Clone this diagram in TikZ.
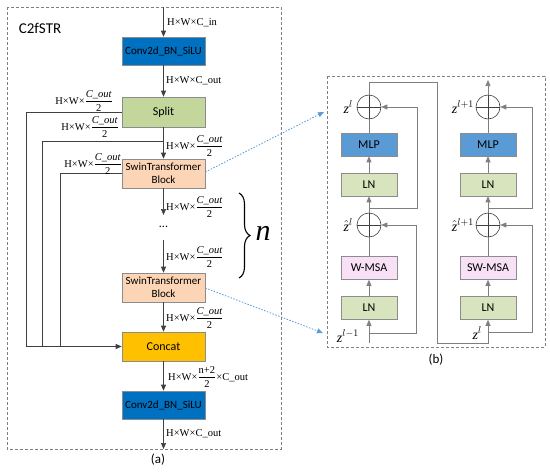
\documentclass[tikz,border=0pt]{standalone}
\usepackage{fontspec}
\setmainfont{Carlito}
\newfontfamily\tnr{Liberation Serif}
\usetikzlibrary{arrows.meta,decorations.pathreplacing}
\definecolor{convblue}{HTML}{0070C0}
\definecolor{splitgreen}{HTML}{C3D69B}
\definecolor{swinpeach}{HTML}{FBD5B5}
\definecolor{concatyel}{HTML}{FFC000}
\definecolor{mlpblue}{HTML}{5B9BD5}
\definecolor{lngreen}{HTML}{D7E4BD}
\definecolor{msapink}{HTML}{F8E1F6}
\definecolor{bd}{HTML}{8C8C8C}
\definecolor{ln}{HTML}{404040}
\definecolor{rln}{HTML}{7F7F7F}
\definecolor{dotblue}{HTML}{5B9BD5}
\newcommand\myfr[2]{$\displaystyle\frac{\hbox{#1}}{\hbox{#2}}$}
\newcommand\hwC{{\tnr H×W×\myfr{\tnr\itshape C\_out}{\tnr 2}}}
\newcommand\zv{{\tnr\itshape z}}
\newcommand\zh{$\hat{\hbox{\tnr\itshape z}}$}
\begin{document}
\begin{tikzpicture}[x=1pt,y=-1pt,
  blk/.style={draw=bd, line width=0.6pt, minimum width=83pt, inner sep=0pt, align=center, font=\fontsize{11}{12.5}\selectfont},
  rblk/.style={draw=bd, line width=0.6pt, minimum width=56pt, minimum height=23pt, inner sep=0pt, font=\fontsize{12}{13}\selectfont},
  conn/.style={draw=ln, line width=0.7pt},
  rconn/.style={draw=rln, line width=0.7pt},
  arr/.style={-{Triangle[length=6pt,width=5pt]}},
  lbl/.style={font=\fontsize{10.5}{11}\selectfont, inner sep=0pt},
  zl/.style={font=\fontsize{14}{15}\selectfont, inner sep=0pt},
  frame/.style={draw=rln, dashed, dash pattern=on 3pt off 2pt, line width=0.7pt},
  plus/.style={circle, draw=ln, line width=0.6pt, minimum size=24pt, inner sep=0pt},
  blued/.style={draw=dotblue, dash pattern=on 1.5pt off 1.5pt, line width=0.8pt, -{Triangle[length=6pt,width=5pt]}}
]
\useasboundingbox (0,0) rectangle (550,474);
% frames
\draw[frame] (7,7) rectangle (281,449);
\draw[frame] (327,76) rectangle (545,347);
\node[font=\fontsize{15}{16}\selectfont] (title) at (40,28) {C2fSTR};
\node[font=\fontsize{13}{14}\selectfont] (capa) at (158,460) {(a)};
\node[font=\fontsize{13}{14}\selectfont] (capb) at (436,360) {(b)};

% left column nodes
\coordinate (top) at (163.5,7);
\node[blk, fill=convblue, minimum height=28pt] (conv1) at (163.5,51) {Conv2d\_BN\_SiLU};
\node[blk, fill=splitgreen, minimum height=30pt, font=\fontsize{12}{13}\selectfont] (split) at (163.5,112) {Split};
\node[blk, fill=swinpeach, minimum height=29pt] (swin1) at (163.5,173.5) {SwinTransformer\\Block};
\node[inner sep=1pt, font=\fontsize{12}{12}\selectfont] (dots) at (163.5,227) {...};
\node[blk, fill=swinpeach, minimum height=29pt] (swin2) at (163.5,287.5) {SwinTransformer\\Block};
\node[blk, fill=concatyel, minimum height=29pt, font=\fontsize{12}{13}\selectfont] (concat) at (163.5,346.5) {Concat};
\node[blk, fill=convblue, minimum height=28pt] (conv2) at (163.5,405) {Conv2d\_BN\_SiLU};
\coordinate (bot) at (163.5,449);
\coordinate (t2) at (163.5,141);

\draw[conn,arr] (top) -- (conv1);
\draw[conn,arr] (conv1) -- (split);
\draw[conn,arr] (split) -- (swin1);
\draw[conn,arr] (swin1) -- (dots.north |- 0,215);
\draw[conn,arr] (dots.south |- 0,240) -- (swin2);
\draw[conn,arr] (swin2) -- (concat);
\draw[conn,arr] (concat) -- (conv2);
\draw[conn,arr] (conv2) -- (bot);

% skip lines
\coordinate (v1) at (26,346.5);
\coordinate (v2) at (42,346.5);
\coordinate (v3) at (60,346.5);
\draw[conn] (split.west) -| (v1);
\draw[conn] (t2) -| (v2);
\draw[conn] (swin1.west) -| (v3);
\draw[conn,arr] (v1) -- (concat.west);

% labels
\node[lbl, anchor=west] (l0) at (167,23) {\tnr H×W×C\_in};
\node[lbl, anchor=west] (l1) at (166,81) {\tnr H×W×C\_out};
\node[lbl, anchor=west] (l2) at (166,146) {\hwC};
\node[lbl, anchor=west] (l3) at (166,207) {\hwC};
\node[lbl, anchor=west] (l4) at (166,257) {\hwC};
\node[lbl, anchor=west] (l5) at (166,318) {\hwC};
\node[lbl, anchor=west] (l6) at (168,377) {\tnr H×W×\myfr{\tnr n+2}{\tnr 2}×C\_out};
\node[lbl, anchor=west] (l7) at (166,434) {\tnr H×W×C\_out};
\node[lbl, anchor=east] (s1) at (113,101) {\hwC};
\node[lbl, anchor=east] (s2) at (119,127) {\hwC};
\node[lbl, anchor=east] (s3) at (122,164) {\hwC};

% brace and n
\coordinate (br1) at (239,193);
\coordinate (br2) at (239,278);
\draw[decorate, decoration={brace, amplitude=11pt}, line width=1.1pt] (br1) -- (br2);
\node[font=\fontsize{30}{30}\selectfont\tnr\itshape, inner sep=0pt] (nn) at (263,233) {n};

% right part, column 1
\node[plus] (c1t) at (369,107) {};
\node[rblk, fill=mlpblue] (mlp1) at (369,144.5) {MLP};
\node[rblk, fill=lngreen] (ln1a) at (369,184.5) {LN};
\node[plus] (c1b) at (369,225) {};
\node[rblk, fill=msapink] (wmsa) at (369,268) {W-MSA};
\node[rblk, fill=lngreen] (ln1b) at (369,308) {LN};
% column 2
\node[plus] (c2t) at (488,107) {};
\node[rblk, fill=mlpblue] (mlp2) at (488,144.5) {MLP};
\node[rblk, fill=lngreen] (ln2a) at (488,184.5) {LN};
\node[plus] (c2b) at (488,225) {};
\node[rblk, fill=msapink] (swmsa) at (488,268) {SW-MSA};
\node[rblk, fill=lngreen] (ln2b) at (488,308) {LN};
% plus signs
\foreach \c in {c1t,c1b,c2t,c2b}{
  \draw[draw=ln, line width=0.6pt] (\c.north) -- (\c.south) (\c.west) -- (\c.east);
}
% col1 flow
\coordinate (in1) at (369,343);
\draw[rconn,arr] (in1) -- (ln1b);
\draw[rconn,arr] (ln1b) -- (wmsa);
\draw[rconn] (wmsa) -- (c1b);
\draw[rconn,arr] (c1b) -- (ln1a);
\draw[rconn,arr] (ln1a) -- (mlp1);
\draw[rconn] (mlp1) -- (c1t);
\coordinate (b1) at (369,333);
\coordinate (b2) at (369,208);
\draw[rconn,arr] (b1) -- (416,333) -- (416,225) -- (c1b.east);
\draw[rconn,arr] (b2) -- (417,208) -- (417,107) -- (c1t.east);
% loop to col2
\draw[rconn,arr] (c1t.north) -- (369,82) -- (437,82) -- (437,343) -- (488,343) -- (ln2b.south);
% col2 flow
\draw[rconn,arr] (ln2b) -- (swmsa);
\draw[rconn] (swmsa) -- (c2b);
\draw[rconn,arr] (c2b) -- (ln2a);
\draw[rconn,arr] (ln2a) -- (mlp2);
\draw[rconn] (mlp2) -- (c2t);
\coordinate (b3) at (488,332);
\coordinate (b4) at (488,208);
\draw[rconn,arr] (b3) -- (532,332) -- (532,225) -- (c2b.east);
\draw[rconn,arr] (b4) -- (532,208) -- (532,107) -- (c2t.east);
\coordinate (out2) at (488,80);
\draw[rconn,arr] (c2t.north) -- (out2);

% z labels
\node[zl, anchor=east] (z1) at (353,107) {\zv$^{l}$};
\node[zl, anchor=east] (z2) at (353,225) {\zh$^{l}$};
\node[zl, anchor=east] (z3) at (359,336) {\zv$^{l-1}$};
\node[zl, anchor=east] (z4) at (474,107) {\zv$^{l+1}$};
\node[zl, anchor=east] (z5) at (474,225) {\zh$^{l+1}$};
\node[zl, anchor=east] (z6) at (482,333) {\zv$^{l}$};

% blue dotted connectors
\coordinate (bt) at (324,112);
\coordinate (bb) at (323,333);
\draw[blued] (swin1.east |- 0,172) -- (bt);
\draw[blued] (swin2.east |- 0,288) -- (bb);
\end{tikzpicture}
\end{document}
